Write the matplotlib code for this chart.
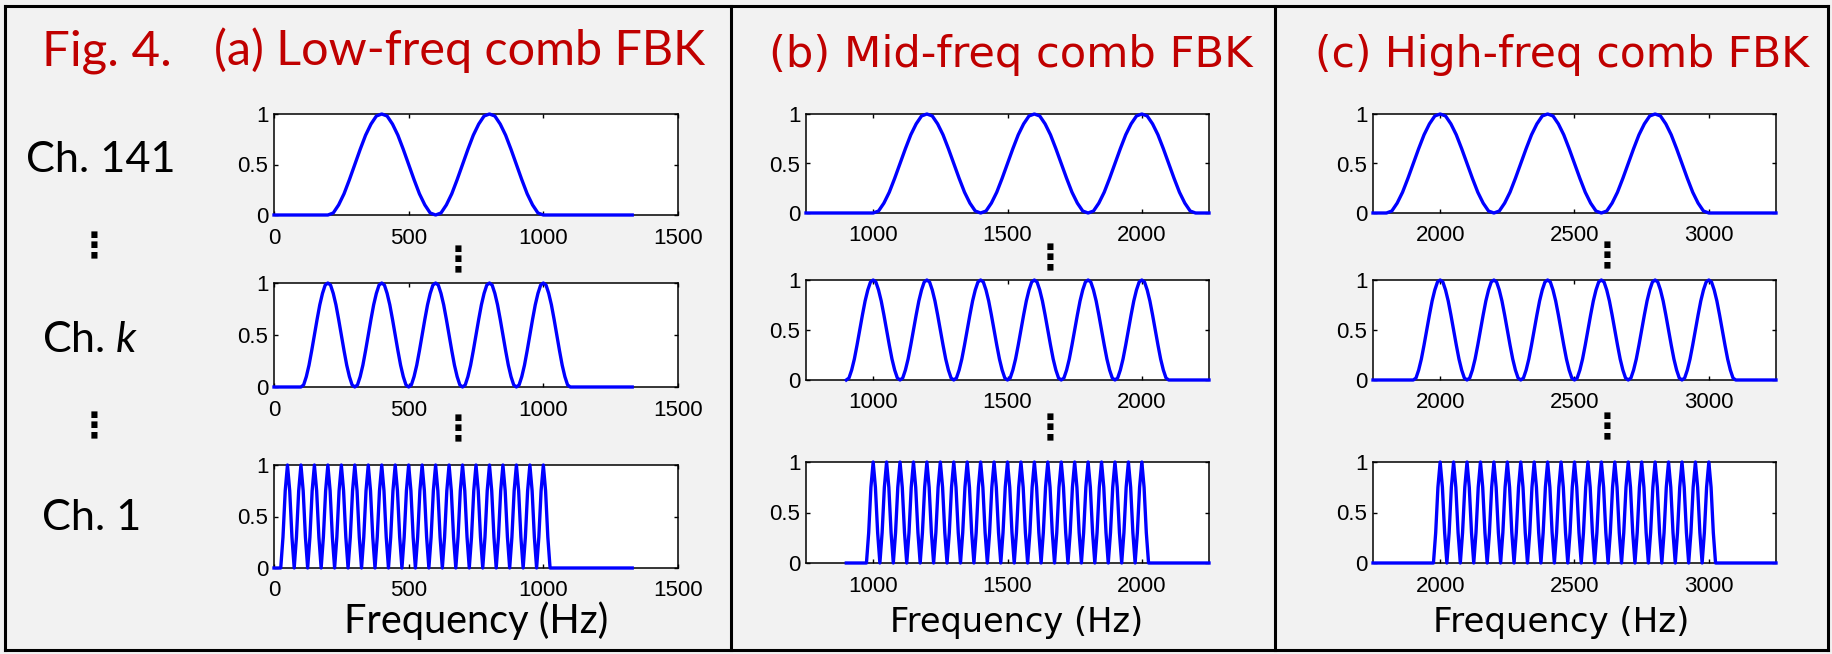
import numpy as np
import matplotlib.pyplot as plt
from matplotlib.lines import Line2D

# --- data ---
wide_lobe = [0, 0.02, 0.1, 0.21, 0.35, 0.5, 0.65, 0.79, 0.9, 0.98, 1.0,
             0.98, 0.9, 0.79, 0.65, 0.5, 0.35, 0.21, 0.1, 0.02, 0]
narrow_lobe = [0, 0.3, 0.75, 1.0, 0.75, 0.3, 0]

panel_titles = ["(a) Low-freq comb FBK", "(b) Mid-freq comb FBK", "(c) High-freq comb FBK"]
row_labels = ["Ch. 141", "Ch. $\\mathit{k}$", "Ch. 1"]
xlims = [(0, 1500), (750, 2250), (1750, 3250)]
xticks = [[0, 500, 1000, 1500], [1000, 1500, 2000], [2000, 2500, 3000]]
yticks = [0, 0.5, 1]
ytick_labels = ["0", "0.5", "1"]

low_peaks = [
    [400, 800],
    [200, 400, 600, 800, 1000],
    [50, 100, 150, 200, 250, 300, 350, 400, 450, 500,
     550, 600, 650, 700, 750, 800, 850, 900, 950, 1000],
]
mid_peaks = [
    [1200, 1600, 2000],
    [1000, 1200, 1400, 1600, 1800, 2000],
    [1000, 1050, 1100, 1150, 1200, 1250, 1300, 1350, 1400, 1450, 1500,
     1550, 1600, 1650, 1700, 1750, 1800, 1850, 1900, 1950, 2000],
]
high_peaks = [
    [2000, 2400, 2800],
    [2000, 2200, 2400, 2600, 2800, 3000],
    [2000, 2050, 2100, 2150, 2200, 2250, 2300, 2350, 2400, 2450, 2500,
     2550, 2600, 2650, 2700, 2750, 2800, 2850, 2900, 2950, 3000],
]
all_peaks = [low_peaks, mid_peaks, high_peaks]
lobe_widths = [400, 200, 50]
line_start = [[0, 0, 0], [750, 900, 900], [1750, 1750, 1750]]
line_end = [[1330, 1330, 1330], [2250, 2250, 2250], [3250, 3250, 3250]]

# --- layout (pixels) ---
W, H = 1833, 654
RED = "#c00000"
BG = "#f2f2f2"
CAL = "Lato"
VER = "DejaVu Sans"

plt.rcParams["mathtext.fontset"] = "custom"
plt.rcParams["mathtext.rm"] = CAL
plt.rcParams["mathtext.it"] = CAL + ":italic"

fig = plt.figure(figsize=(W / 100, H / 100), dpi=100, facecolor=BG)
renderer = fig.canvas.get_renderer()

panel_x = [(274, 678), (806, 1209), (1373, 1776)]
row_y = [
    [(114, 215), (283, 387), (465, 568)],
    [(114, 213), (280, 380), (462, 563)],
    [(114, 213), (280, 380), (462, 563)],
]


def rect(l, r, t, b):
    return [l / W, 1 - b / H, (r - l) / W, (b - t) / H]


def comb_curve(peaks, width, start, end, profile):
    t = np.linspace(-0.5, 0.5, len(profile))
    xs, ys = [start], [0]
    for p in peaks:
        xs.extend(p + t * width)
        ys.extend(profile)
    xs.append(end)
    ys.append(0)
    return xs, ys


def put_text(s, left, right, baseline, family, color="black", boost=1.0):
    t = fig.text(left / W, 1 - baseline / H, s, ha="left", va="baseline",
                 fontsize=30, family=family, color=color)
    w = t.get_window_extent(renderer).width
    t.set_fontsize(30 * boost * (right - left) / w)
    return t


for p in range(3):
    l, r = panel_x[p]
    for row in range(3):
        t, b = row_y[p][row]
        ax = fig.add_axes(rect(l, r, t, b))
        prof = narrow_lobe if row == 2 else wide_lobe
        xs, ys = comb_curve(all_peaks[p][row], lobe_widths[row],
                            line_start[p][row], line_end[p][row], prof)
        ax.plot(xs, ys, color="#0000ff", lw=2.4, clip_on=False, zorder=3)
        ax.set_xlim(xlims[p])
        ax.set_ylim(0, 1)
        ax.set_xticks(xticks[p])
        ax.set_xticklabels([str(v) for v in xticks[p]])
        ax.set_yticks(yticks)
        ax.set_yticklabels(ytick_labels)
        ax.tick_params(direction="in", top=True, right=True, length=3, width=1,
                       labelsize=16, pad=4)
        ax.tick_params(axis="x", pad=9)
        for lab in ax.get_xticklabels() + ax.get_yticklabels():
            lab.set_family("Liberation Sans")
        for s in ax.spines.values():
            s.set_linewidth(1.1)
        ax.set_facecolor("white")

# titles
put_text("Fig. 4.", 42, 165, 65, CAL, RED, 1.05)
put_text(panel_titles[0], 214, 705, 65, CAL, RED)
put_text(panel_titles[1], 769, 1253, 66.5, VER, RED)
put_text(panel_titles[2], 1315, 1808, 66.5, VER, RED)

# row labels
put_text(row_labels[0], 26, 169, 172, CAL, boost=1.05)
put_text(row_labels[1], 42, 134, 352, CAL, boost=1.05)
put_text(row_labels[2], 42, 137, 530, CAL, boost=1.05)

# x labels
put_text("Frequency (Hz)", 344, 598, 633, CAL, boost=1.04)
put_text("Frequency (Hz)", 890, 1143, 632, VER)
put_text("Frequency (Hz)", 1433, 1689, 632, VER)

# vertical ellipses
for x, y in [(94, 247), (94, 427), (458, 261), (458, 430),
             (1050, 259), (1050, 429), (1607, 257), (1607, 428)]:
    fig.text(x / W, 1 - y / H, "\u22ee", ha="center", va="center",
             fontsize=25, fontweight="bold", family=VER)

# frame and dividers
frame = [((5.5, 6), (1828, 6)), ((1828, 6), (1828, 650)),
         ((1828, 650), (5.5, 650)), ((5.5, 650), (5.5, 6)),
         ((731, 6), (731, 650)), ((1275, 6), (1275, 650))]
for (x0, y0), (x1, y1) in frame:
    fig.add_artist(Line2D([x0 / W, x1 / W], [1 - y0 / H, 1 - y1 / H],
                          color="black", lw=2.2))

fig.savefig("out.png", dpi=100, facecolor=BG)
